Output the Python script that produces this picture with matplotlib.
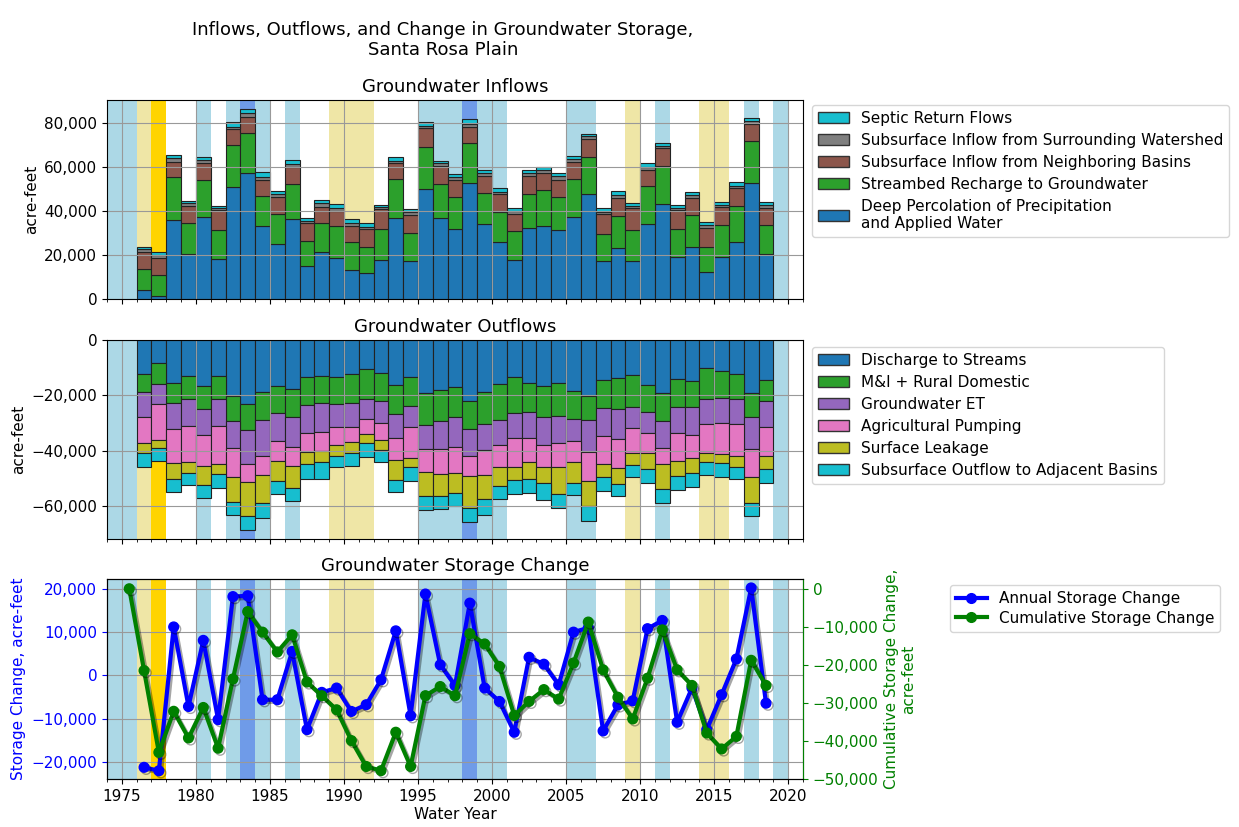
import matplotlib
matplotlib.use('Agg')
import matplotlib.pyplot as plt
import matplotlib.ticker as mticker
import matplotlib.patheffects as pe
from matplotlib.patches import Patch
from matplotlib.lines import Line2D

years = list(range(1976, 2019))

# ---- inflows, acre-feet ----
deep_perc = [4100, 1500, 35800, 20600, 37100, 18300, 50800, 57400, 33200, 25000,
             36200, 14800, 21200, 18600, 13200, 11700, 17600, 36700, 17400, 50000,
             37000, 31700, 52900, 34200, 26100, 17900, 32400, 33300, 31500, 37100,
             47700, 17400, 23000, 17400, 34100, 43200, 18900, 23500, 12400, 18900,
             26100, 52900, 20300]
streambed = [9500, 9300, 19800, 14100, 17000, 13200, 19200, 18200, 13600, 13600,
             16100, 11700, 13200, 14400, 12900, 12100, 14200, 17800, 12800, 19200,
             15300, 14800, 17900, 14000, 13600, 13200, 15200, 16100, 15000, 17300,
             16800, 12300, 14900, 13800, 17400, 17400, 12800, 14700, 11400, 14700,
             16300, 18900, 13300]
neighbor_in = [7900, 7700, 6800, 7600, 7600, 9000, 7100, 7300, 7400, 7900,
               7500, 7900, 7600, 7000, 7200, 7900, 9000, 7200, 8000, 8400,
               8200, 7400, 7500, 7700, 7900, 7700, 8300, 7700, 7600, 8000,
               8200, 8800, 8200, 10000, 7100, 7900, 8800, 7900, 8300, 8100,
               7900, 7600, 7900]
watershed_in = [1100, 1500, 1600, 1200, 1500, 700, 1200, 1500, 1400, 1200,
                1400, 1200, 1500, 1400, 1400, 1200, 900, 1200, 1200, 1200,
                1200, 1400, 1500, 1200, 1200, 1400, 1200, 1500, 1700, 1100,
                1200, 1200, 1200, 1100, 1600, 1200, 1000, 1200, 1500, 1200,
                1200, 1500, 1200]
septic = [1200, 1500, 1300, 1200, 1500, 1100, 2200, 2000, 2000, 1500,
          1800, 1400, 1500, 1600, 1500, 1500, 1000, 1600, 1400, 1600,
          1200, 1500, 2000, 1400, 1500, 1300, 1400, 1600, 1300, 1500,
          1300, 1500, 1600, 1200, 1500, 1400, 1200, 1500, 1200, 1000,
          1500, 1500, 1500]

# ---- outflows, acre-feet (negative) ----
discharge = [-12400, -8400, -15700, -13000, -16500, -12900, -20100, -23300, -18800, -16600,
             -17800, -13300, -13000, -13300, -12400, -10600, -11800, -16300, -13300, -19300,
             -18100, -16900, -21900, -18700, -16000, -13300, -15700, -16500, -15700, -18300,
             -20200, -14500, -13900, -12700, -16300, -19300, -14200, -14700, -10200, -11100,
             -12300, -19000, -14500]
mi_rural = [-6300, -7500, -7200, -8300, -8400, -8500, -9100, -9200, -10100, -9700,
            -9900, -10200, -9900, -9800, -10500, -10700, -10200, -10600, -10600, -11400,
            -11100, -11100, -10400, -11700, -12900, -13000, -10200, -11500, -11800, -10400,
            -8700, -10200, -11200, -11400, -9600, -9900, -10100, -9600, -11200, -10000,
            -9100, -8700, -7500]
gw_et = [-9300, -7200, -9300, -9700, -9400, -9600, -9700, -12400, -12900, -10200,
         -11100, -10200, -10200, -8200, -8400, -7300, -8100, -8600, -7700, -8700,
         -10200, -10600, -9600, -9400, -9100, -9200, -9400, -10000, -9800, -8000,
         -11500, -10000, -10800, -7800, -7600, -10000, -9400, -10000, -9000, -9000,
         -9000, -11800, -9300]
ag_pumping = [-9100, -13000, -12400, -13000, -11200, -13900, -10500, -6500, -7200, -7200,
              -6600, -6900, -6900, -6700, -5700, -5500, -6000, -7900, -10900, -8200,
              -9000, -9600, -7300, -9200, -8000, -10300, -8700, -7800, -8800, -7600,
              -10600, -10200, -10500, -9100, -7200, -5600, -10000, -8200, -10600, -11100,
              -11500, -9900, -10600]
surf_leak = [-3900, -2800, -5800, -4200, -7000, -3700, -9300, -12200, -10000, -7300,
             -8000, -4300, -4200, -3800, -3700, -3200, -3700, -7200, -3500, -8700,
             -7900, -7200, -11600, -8600, -6800, -5000, -6400, -6000, -9700, -7300,
             -9000, -4500, -5600, -4200, -6000, -9200, -5500, -5700, -3000, -3400,
             -3900, -9600, -4800]
sub_out = [-5000, -4800, -4700, -4400, -4700, -4800, -4600, -5100, -5500, -4800,
           -4800, -5500, -6000, -4300, -4800, -5100, -4400, -4500, -5000, -5100,
           -4800, -4600, -5100, -5700, -4800, -5000, -5000, -6000, -4800, -4400,
           -5300, -5200, -4600, -4200, -5100, -5000, -5000, -4800, -4800, -4800,
           -4400, -4500, -4900]

# ---- storage change ----
annual_change = [-21200, -22000, 11200, -7150, 8100, -10200, 18200, 18400, -5600, -5600,
                 5550, -12500, -3900, -2900, -8300, -6750, -1000, 10300, -9300, 18800,
                 2460, -2300, 16700, -2900, -6000, -13100, 4200, 2600, -2150, 10000,
                 11000, -12800, -6800, -5850, 10800, 12700, -10800, -2900, -12500, -4450,
                 3800, 20200, -6400]
cum_years = list(range(1975, 2019))
cum_change = [0, -21500, -43000, -32200, -39200, -31200, -41900, -23700, -6000, -11400,
              -16600, -12100, -24500, -28100, -31800, -39900, -46700, -47800, -37700, -46700,
              -28100, -25700, -28100, -11800, -14500, -20400, -33300, -29600, -26500, -29000,
              -19500, -8750, -21300, -28500, -34200, -23500, -10800, -21300, -25400, -37900,
              -42100, -38800, -18800, -25400]

# ---- water year type shading ----
wy_years = list(range(1974, 2021))
wy_type = ['AN', 'AN', 'D', 'C', 'N', 'N', 'AN', 'N', 'AN', 'W',
           'AN', 'N', 'AN', 'N', 'N', 'D', 'D', 'D', 'N', 'N',
           'N', 'AN', 'AN', 'AN', 'W', 'AN', 'AN', 'N', 'N', 'N',
           'N', 'AN', 'AN', 'N', 'N', 'D', 'N', 'AN', 'N', 'N',
           'D', 'D', 'N', 'AN', 'N', 'AN', 'N']
wy_colors = {'W': '#6f9be8', 'AN': '#acd8e6', 'D': '#efe6a6', 'C': '#ffd400'}

inflow_series = [
    (deep_perc, '#1f77b4', 'Deep Percolation of Precipitation\nand Applied Water'),
    (streambed, '#2ca02c', 'Streambed Recharge to Groundwater'),
    (neighbor_in, '#8c564b', 'Subsurface Inflow from Neighboring Basins'),
    (watershed_in, '#7f7f7f', 'Subsurface Inflow from Surrounding Watershed'),
    (septic, '#17becf', 'Septic Return Flows'),
]
outflow_series = [
    (discharge, '#1f77b4', 'Discharge to Streams'),
    (mi_rural, '#2ca02c', 'M&I + Rural Domestic'),
    (gw_et, '#9467bd', 'Groundwater ET'),
    (ag_pumping, '#e377c2', 'Agricultural Pumping'),
    (surf_leak, '#bcbd22', 'Surface Leakage'),
    (sub_out, '#17becf', 'Subsurface Outflow to Adjacent Basins'),
]

FS = 11
plt.rcParams['font.family'] = 'DejaVu Sans'
plt.rcParams['font.size'] = FS

fig = plt.figure(figsize=(12.39, 8.27), dpi=100)
ax1 = fig.add_axes([0.0864, 0.6385, 0.5617, 0.2406])
ax2 = fig.add_axes([0.0864, 0.3482, 0.5617, 0.2406], sharex=ax1)
ax3 = fig.add_axes([0.0864, 0.0580, 0.5617, 0.2418], sharex=ax1)

fmt = mticker.StrMethodFormatter('{x:,.0f}')


def shade(ax):
    for y, t in zip(wy_years, wy_type):
        if t in wy_colors:
            ax.axvspan(y, y + 1, color=wy_colors[t], lw=0, zorder=0)


def stack(ax, series):
    bottom = [0] * len(years)
    handles = []
    for vals, col, lab in series:
        ax.bar(years, vals, width=1.0, bottom=bottom, align='edge', color=col,
               edgecolor='#222222', linewidth=0.8, zorder=1)
        bottom = [b + v for b, v in zip(bottom, vals)]
        handles.append(Patch(facecolor=col, edgecolor='#333333', label=lab))
    return handles


# top: inflows
shade(ax1)
h1 = stack(ax1, inflow_series)
ax1.set_ylim(0, 90500)
ax1.set_yticks([0, 20000, 40000, 60000, 80000])
ax1.yaxis.set_major_formatter(fmt)
ax1.set_ylabel('acre-feet', fontsize=FS)
ax1.set_title('Groundwater Inflows', fontsize=13, pad=6)
ax1.grid(True, color='#999999', lw=0.8)
ax1.legend(handles=h1[::-1], loc='upper left', bbox_to_anchor=(1.013, 0.975),
           borderaxespad=0, fontsize=FS, labelspacing=0.45)

# middle: outflows
shade(ax2)
h2 = stack(ax2, outflow_series)
ax2.set_ylim(-72000, 0)
ax2.set_yticks([-60000, -40000, -20000, 0])
ax2.yaxis.set_major_formatter(fmt)
ax2.set_ylabel('acre-feet', fontsize=FS)
ax2.set_title('Groundwater Outflows', fontsize=13, pad=6)
ax2.grid(True, color='#999999', lw=0.8)
ax2.legend(handles=h2, loc='upper left', bbox_to_anchor=(1.013, 0.965),
           borderaxespad=0, fontsize=FS, labelspacing=0.45)

# bottom: storage change
shade(ax3)
shadow = [pe.SimpleLineShadow(offset=(1.5, -1.5), alpha=0.35), pe.Normal()]
ax3.plot([y + 0.5 for y in years], annual_change, color='blue', lw=3,
         marker='o', ms=7, path_effects=shadow, zorder=3)
ax3.set_ylim(-23900, 22250)
ax3.set_yticks([-20000, -10000, 0, 10000, 20000])
ax3.yaxis.set_major_formatter(fmt)
ax3.tick_params(axis='y', colors='blue')
ax3.set_ylabel('Storage Change, acre-feet', color='blue', fontsize=FS)
ax3.set_title('Groundwater Storage Change', fontsize=13, pad=6)
ax3.grid(True, color='#999999', lw=0.8)

ax3r = ax3.twinx()
ax3r.plot([y + 0.5 for y in cum_years], cum_change, color='green', lw=3,
          marker='o', ms=7, path_effects=shadow, zorder=3)
ax3r.set_ylim(-50000, 2550)
ax3r.set_yticks([-50000, -40000, -30000, -20000, -10000, 0])
ax3r.yaxis.set_major_formatter(fmt)
ax3r.tick_params(axis='y', colors='green')
ax3r.spines['right'].set_color('green')
ax3r.set_ylabel('Cumulative Storage Change,\nacre-feet', color='green', fontsize=FS)

line_h = [Line2D([], [], color='blue', lw=3, marker='o', ms=7, label='Annual Storage Change'),
          Line2D([], [], color='green', lw=3, marker='o', ms=7, label='Cumulative Storage Change')]
ax3r.legend(handles=line_h, loc='upper left', bbox_to_anchor=(1.211, 0.97),
            borderaxespad=0, fontsize=FS, labelspacing=0.3)

ax3.set_xlim(1974, 2021)
ax3.xaxis.set_major_locator(mticker.MultipleLocator(5))
ax3.xaxis.set_minor_locator(mticker.MultipleLocator(1))
ax3.set_xlabel('Water Year', fontsize=FS, labelpad=2)
for ax in (ax1, ax2):
    plt.setp(ax.get_xticklabels(), visible=False)
for ax in (ax1, ax2, ax3):
    ax.tick_params(labelsize=FS)
ax3r.tick_params(labelsize=FS)

fig.text(0.3576, 0.975, 'Inflows, Outflows, and Change in Groundwater Storage,\nSanta Rosa Plain',
         ha='center', va='top', fontsize=13)

fig.savefig('out.png', dpi=100)
